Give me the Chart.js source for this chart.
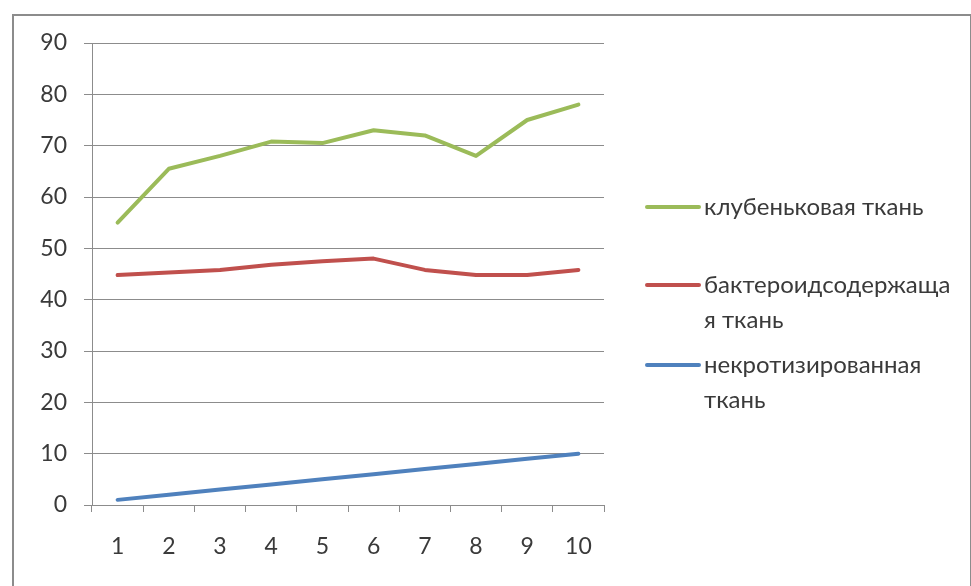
<!DOCTYPE html>
<html><head><meta charset="utf-8">
<script src="https://cdn.jsdelivr.net/npm/chart.js@4.4.0/dist/chart.umd.min.js"></script>
<style>
html,body{margin:0;padding:0;background:#fff;}
#wrap{position:relative;width:971px;height:586px;overflow:hidden;}
#frame{position:absolute;left:12px;top:14px;width:960px;height:600px;border:2px solid #8c8c8c;box-sizing:border-box;}
canvas{position:absolute;left:0;top:0;}
</style></head><body>
<div id="wrap"><div id="frame"></div><canvas id="c" width="971" height="586"></canvas></div>
<script>
const categories = ['1','2','3','4','5','6','7','8','9','10'];
const nodularTissue = [55, 65.5, 68, 70.8, 70.5, 73, 72, 68, 75, 78];
const bacteroidTissue = [44.8, 45.3, 45.8, 46.8, 47.5, 48, 45.8, 44.8, 44.8, 45.8];
const necroticTissue = [1, 2, 3, 4, 5, 6, 7, 8, 9, 10];
const seriesNames = [['клубеньковая ткань'], ['бактероидсодержаща', 'я ткань'], ['некротизированная', 'ткань']];
const yTicks = [0, 10, 20, 30, 40, 50, 60, 70, 80, 90];

const colors = ['#9BBB59', '#C0504D', '#4F81BD'];
const FONT = 'Lato, "Open Sans", sans-serif';
const TXT = '#3a3a3a';

const legendPlugin = {
  id: 'sideLegend',
  afterDraw(chart) {
    const ctx = chart.ctx;
    const ys = [207, 285, 365];
    ctx.save();
    chart.data.datasets.forEach((ds, i) => {
      const y = ys[i];
      ctx.strokeStyle = ds.borderColor;
      ctx.lineWidth = 4;
      ctx.lineCap = 'round';
      ctx.beginPath(); ctx.moveTo(647, y); ctx.lineTo(699, y); ctx.stroke();
      ctx.fillStyle = TXT;
      ctx.font = '24px ' + FONT;
      ctx.textBaseline = 'middle';
      ctx.textAlign = 'left';
      ds.legendLines.forEach((t, k) => ctx.fillText(t, 704, y + k * 35));
    });
    ctx.restore();
  }
};

new Chart(document.getElementById('c'), {
  type: 'line',
  data: {
    labels: categories,
    datasets: [
      { label: seriesNames[0].join(''), legendLines: seriesNames[0], data: nodularTissue, borderColor: colors[0] },
      { label: seriesNames[1].join(''), legendLines: seriesNames[1], data: bacteroidTissue, borderColor: colors[1] },
      { label: seriesNames[2].join(''), legendLines: seriesNames[2], data: necroticTissue, borderColor: colors[2] }
    ].map(d => Object.assign(d, { borderWidth: 4, pointRadius: 0, tension: 0, fill: false, borderCapStyle: 'round', borderJoinStyle: 'round' }))
  },
  options: {
    responsive: false,
    animation: false,
    devicePixelRatio: 1,
    layout: { padding: { left: 0, top: 43, right: 367, bottom: 0 } },
    plugins: { legend: { display: false }, tooltip: { enabled: false } },
    scales: {
      x: {
        offset: true,
        grid: { offset: true, drawOnChartArea: false, drawTicks: true, tickLength: 7, color: '#8c8c8c', lineWidth: 1 },
        border: { color: '#8c8c8c', width: 1 },
        ticks: { color: TXT, font: { family: FONT, size: 23 }, padding: 21, maxRotation: 0 },
        afterFit(s) { s.height = 81; }
      },
      y: {
        min: 0, max: 90,
        afterBuildTicks(s) { s.ticks = yTicks.map(v => ({ value: v })); },
        grid: { color: '#8c8c8c', lineWidth: 1, drawTicks: true, tickLength: 8 },
        border: { color: '#8c8c8c', width: 1 },
        ticks: { color: TXT, font: { family: FONT, size: 23 }, padding: 17 },
        afterFit(s) { s.width = 92; }
      }
    }
  },
  plugins: [legendPlugin]
});
</script>
</body></html>
